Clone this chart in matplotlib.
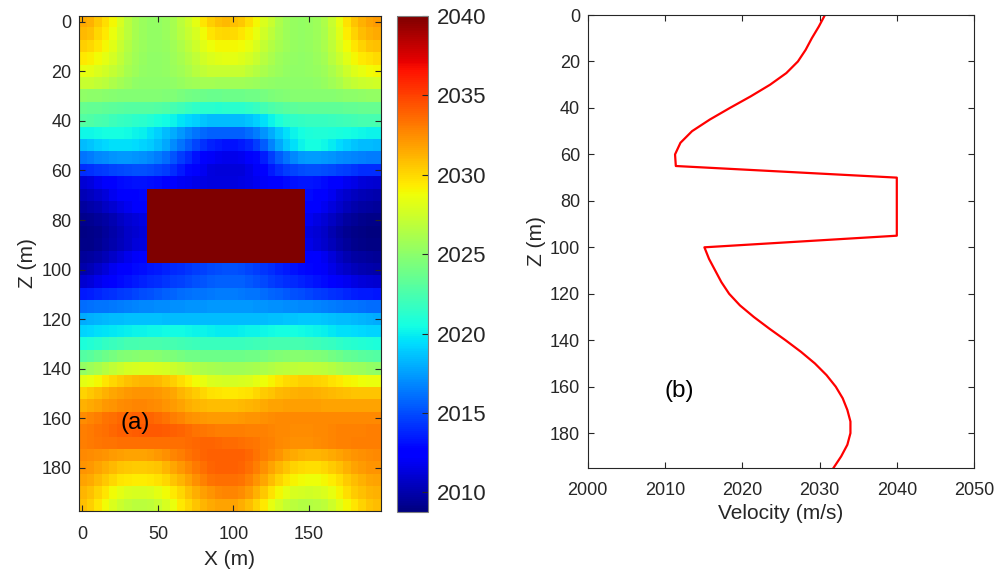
import numpy as np
import matplotlib
matplotlib.use('Agg')
import matplotlib.pyplot as plt

plt.rcParams['font.family'] = ['Liberation Sans', 'DejaVu Sans']

# grid of the velocity model, cells every 5 m
x_pos = list(range(0, 200, 5))
z_pos = list(range(0, 200, 5))

# velocity rows (m/s), one row per depth
vel_rows = [
    [2031.5, 2031.3, 2030.5, 2029.8, 2029.0, 2027.8, 2026.8, 2026.0, 2025.5, 2025.3, 2025.3, 2025.5, 2026.0, 2026.8, 2027.5, 2028.3, 2029.5, 2030.3, 2030.8, 2031.0, 2030.8, 2030.5, 2029.8, 2029.0, 2028.0, 2027.2, 2026.3, 2025.7, 2025.4, 2025.3, 2025.4, 2025.7, 2026.3, 2027.3, 2028.5, 2029.7, 2030.6, 2031.3, 2031.8, 2032.0],
    [2031.0, 2030.8, 2030.1, 2029.4, 2028.6, 2027.6, 2026.7, 2026.0, 2025.5, 2025.3, 2025.3, 2025.5, 2026.0, 2026.6, 2027.2, 2027.9, 2028.8, 2029.5, 2029.9, 2030.0, 2029.9, 2029.6, 2029.1, 2028.4, 2027.6, 2026.9, 2026.2, 2025.7, 2025.4, 2025.3, 2025.4, 2025.7, 2026.2, 2027.1, 2028.2, 2029.3, 2030.2, 2030.9, 2031.3, 2031.5],
    [2030.3, 2030.1, 2029.5, 2028.9, 2028.2, 2027.3, 2026.5, 2025.9, 2025.5, 2025.3, 2025.3, 2025.4, 2025.8, 2026.3, 2026.9, 2027.5, 2028.2, 2028.7, 2029.0, 2029.0, 2029.0, 2028.8, 2028.4, 2027.8, 2027.1, 2026.5, 2026.0, 2025.6, 2025.4, 2025.3, 2025.4, 2025.6, 2026.1, 2026.9, 2027.9, 2028.8, 2029.6, 2030.2, 2030.6, 2030.8],
    [2029.4, 2029.2, 2028.8, 2028.3, 2027.7, 2027.0, 2026.3, 2025.8, 2025.4, 2025.2, 2025.2, 2025.3, 2025.6, 2026.0, 2026.5, 2027.0, 2027.6, 2028.0, 2028.2, 2028.3, 2028.3, 2028.1, 2027.7, 2027.2, 2026.6, 2026.1, 2025.7, 2025.4, 2025.3, 2025.2, 2025.3, 2025.5, 2025.9, 2026.6, 2027.4, 2028.2, 2028.9, 2029.4, 2029.7, 2029.9],
    [2028.5, 2028.3, 2028.0, 2027.6, 2027.1, 2026.6, 2026.0, 2025.6, 2025.3, 2025.2, 2025.2, 2025.3, 2025.5, 2025.8, 2026.2, 2026.6, 2027.0, 2027.2, 2027.3, 2027.3, 2027.3, 2027.2, 2026.9, 2026.5, 2026.1, 2025.8, 2025.5, 2025.3, 2025.2, 2025.2, 2025.3, 2025.4, 2025.7, 2026.2, 2026.8, 2027.5, 2028.1, 2028.5, 2028.8, 2029.0],
    [2027.3, 2027.2, 2027.0, 2026.7, 2026.3, 2025.9, 2025.5, 2025.2, 2025.1, 2025.0, 2025.0, 2025.1, 2025.2, 2025.4, 2025.6, 2025.8, 2025.9, 2025.9, 2025.8, 2025.8, 2025.8, 2025.8, 2025.7, 2025.5, 2025.3, 2025.2, 2025.1, 2025.0, 2025.0, 2025.0, 2025.1, 2025.2, 2025.4, 2025.8, 2026.2, 2026.7, 2027.1, 2027.4, 2027.5, 2027.6],
    [2025.2, 2025.1, 2025.0, 2024.9, 2024.8, 2024.7, 2024.7, 2024.7, 2024.7, 2024.7, 2024.7, 2024.6, 2024.5, 2024.3, 2024.1, 2023.9, 2023.8, 2023.7, 2023.7, 2023.8, 2023.8, 2023.8, 2023.9, 2024.0, 2024.2, 2024.4, 2024.6, 2024.7, 2024.8, 2024.8, 2024.8, 2024.8, 2024.8, 2024.8, 2024.9, 2025.0, 2025.1, 2025.2, 2025.3, 2025.3],
    [2023.6, 2023.5, 2023.4, 2023.3, 2023.2, 2023.1, 2023.0, 2023.0, 2023.0, 2023.0, 2022.9, 2022.7, 2022.4, 2022.1, 2021.8, 2021.5, 2021.3, 2021.2, 2021.1, 2021.2, 2021.2, 2021.3, 2021.5, 2021.8, 2022.2, 2022.6, 2022.9, 2023.1, 2023.2, 2023.3, 2023.3, 2023.3, 2023.3, 2023.3, 2023.3, 2023.4, 2023.5, 2023.6, 2023.6, 2023.6],
    [2022.8, 2022.7, 2022.5, 2022.3, 2022.0, 2021.8, 2021.6, 2021.4, 2021.2, 2021.0, 2020.7, 2020.4, 2020.1, 2019.7, 2019.3, 2019.0, 2018.7, 2018.5, 2018.4, 2018.4, 2018.4, 2018.5, 2018.7, 2019.1, 2019.6, 2020.2, 2020.8, 2021.2, 2021.5, 2021.6, 2021.7, 2021.7, 2021.8, 2021.9, 2022.0, 2022.1, 2022.2, 2022.3, 2022.4, 2022.4],
    [2020.3, 2020.3, 2020.4, 2020.5, 2020.5, 2020.5, 2020.4, 2020.2, 2020.0, 2019.6, 2019.1, 2018.5, 2017.9, 2017.3, 2016.7, 2016.2, 2015.9, 2015.7, 2015.6, 2015.6, 2015.6, 2015.7, 2016.0, 2016.5, 2017.2, 2018.0, 2018.8, 2019.5, 2020.1, 2020.5, 2020.8, 2020.9, 2020.9, 2020.8, 2020.7, 2020.5, 2020.4, 2020.3, 2020.2, 2020.2],
    [2018.5, 2018.7, 2019.0, 2019.3, 2019.5, 2019.5, 2019.5, 2019.4, 2019.2, 2018.9, 2018.4, 2017.8, 2017.0, 2016.3, 2015.5, 2014.8, 2014.2, 2013.7, 2013.4, 2013.2, 2013.2, 2013.4, 2013.8, 2014.5, 2015.5, 2016.7, 2017.8, 2018.8, 2019.6, 2020.2, 2020.5, 2020.5, 2020.3, 2019.9, 2019.4, 2019.0, 2018.7, 2018.5, 2018.4, 2018.3],
    [2016.3, 2016.5, 2016.8, 2017.0, 2017.2, 2017.3, 2017.3, 2017.2, 2017.1, 2016.9, 2016.5, 2016.0, 2015.3, 2014.6, 2013.9, 2013.2, 2012.6, 2012.1, 2011.8, 2011.7, 2011.7, 2011.8, 2012.2, 2012.8, 2013.6, 2014.6, 2015.5, 2016.3, 2016.9, 2017.3, 2017.5, 2017.5, 2017.4, 2017.2, 2017.0, 2016.8, 2016.7, 2016.6, 2016.5, 2016.5],
    [2014.0, 2014.2, 2014.4, 2014.6, 2014.8, 2014.9, 2015.0, 2015.1, 2015.1, 2015.0, 2014.8, 2014.5, 2014.0, 2013.4, 2012.8, 2012.2, 2011.8, 2011.4, 2011.2, 2011.2, 2011.2, 2011.3, 2011.6, 2012.1, 2012.7, 2013.4, 2014.0, 2014.5, 2014.8, 2015.0, 2015.1, 2015.1, 2015.0, 2014.9, 2014.7, 2014.5, 2014.3, 2014.1, 2014.0, 2014.0],
    [2011.1, 2011.4, 2011.8, 2012.2, 2012.6, 2012.9, 2013.1, 2013.2, 2013.2, 2013.1, 2012.9, 2012.6, 2012.3, 2012.0, 2011.8, 2011.6, 2011.5, 2011.4, 2011.4, 2011.4, 2011.4, 2011.5, 2011.6, 2011.8, 2012.1, 2012.4, 2012.7, 2013.0, 2013.2, 2013.3, 2013.3, 2013.2, 2013.0, 2012.7, 2012.3, 2011.9, 2011.6, 2011.3, 2011.1, 2011.0],
    [2010.3, 2010.5, 2010.9, 2011.3, 2011.8, 2012.2, 2012.5, 2012.7, 2012.8, 2040, 2040, 2040, 2040, 2040, 2040, 2040, 2040, 2040, 2040, 2040, 2040, 2040, 2040, 2040, 2040, 2040, 2040, 2040, 2040, 2040, 2013.0, 2012.7, 2012.3, 2011.8, 2011.3, 2010.9, 2010.5, 2010.3, 2010.1, 2010.0],
    [2009.7, 2009.9, 2010.2, 2010.6, 2011.0, 2011.5, 2011.9, 2012.2, 2012.4, 2040, 2040, 2040, 2040, 2040, 2040, 2040, 2040, 2040, 2040, 2040, 2040, 2040, 2040, 2040, 2040, 2040, 2040, 2040, 2040, 2040, 2012.6, 2012.3, 2011.9, 2011.4, 2010.9, 2010.4, 2010.0, 2009.8, 2009.6, 2009.5],
    [2009.2, 2009.3, 2009.5, 2009.8, 2010.2, 2010.6, 2011.0, 2011.3, 2011.5, 2040, 2040, 2040, 2040, 2040, 2040, 2040, 2040, 2040, 2040, 2040, 2040, 2040, 2040, 2040, 2040, 2040, 2040, 2040, 2040, 2040, 2011.8, 2011.5, 2011.1, 2010.6, 2010.1, 2009.7, 2009.4, 2009.2, 2009.1, 2009.0],
    [2008.9, 2009.0, 2009.2, 2009.5, 2009.9, 2010.3, 2010.7, 2011.0, 2011.2, 2040, 2040, 2040, 2040, 2040, 2040, 2040, 2040, 2040, 2040, 2040, 2040, 2040, 2040, 2040, 2040, 2040, 2040, 2040, 2040, 2040, 2011.4, 2011.1, 2010.7, 2010.2, 2009.7, 2009.3, 2009.0, 2008.9, 2008.8, 2008.7],
    [2009.0, 2009.1, 2009.3, 2009.6, 2010.0, 2010.4, 2010.8, 2011.2, 2011.4, 2040, 2040, 2040, 2040, 2040, 2040, 2040, 2040, 2040, 2040, 2040, 2040, 2040, 2040, 2040, 2040, 2040, 2040, 2040, 2040, 2040, 2011.6, 2011.3, 2010.9, 2010.4, 2009.9, 2009.5, 2009.2, 2009.0, 2008.9, 2008.9],
    [2009.5, 2009.6, 2009.9, 2010.3, 2010.8, 2011.3, 2011.7, 2012.1, 2012.4, 2040, 2040, 2040, 2040, 2040, 2040, 2040, 2040, 2040, 2040, 2040, 2040, 2040, 2040, 2040, 2040, 2040, 2040, 2040, 2040, 2040, 2012.6, 2012.3, 2011.8, 2011.2, 2010.6, 2010.1, 2009.8, 2009.6, 2009.5, 2009.4],
    [2010.0, 2010.3, 2010.8, 2011.3, 2011.8, 2012.2, 2012.6, 2012.9, 2013.1, 2013.3, 2013.5, 2013.7, 2013.9, 2014.1, 2014.3, 2014.5, 2014.7, 2014.9, 2015.0, 2015.1, 2015.1, 2015.0, 2014.8, 2014.6, 2014.3, 2014.0, 2013.7, 2013.4, 2013.2, 2013.0, 2012.8, 2012.5, 2012.1, 2011.6, 2011.1, 2010.7, 2010.4, 2010.2, 2010.0, 2009.9],
    [2011.0, 2011.3, 2011.7, 2012.1, 2012.5, 2012.9, 2013.2, 2013.5, 2013.7, 2013.9, 2014.1, 2014.3, 2014.5, 2014.7, 2014.9, 2015.1, 2015.3, 2015.5, 2015.6, 2015.7, 2015.7, 2015.6, 2015.4, 2015.2, 2014.9, 2014.6, 2014.3, 2014.1, 2013.9, 2013.7, 2013.5, 2013.2, 2012.9, 2012.5, 2012.1, 2011.8, 2011.5, 2011.3, 2011.1, 2011.0],
    [2013.4, 2013.6, 2013.8, 2014.0, 2014.2, 2014.4, 2014.6, 2014.8, 2015.0, 2015.2, 2015.4, 2015.6, 2015.8, 2016.0, 2016.1, 2016.2, 2016.3, 2016.4, 2016.5, 2016.5, 2016.5, 2016.4, 2016.3, 2016.2, 2016.0, 2015.8, 2015.6, 2015.4, 2015.2, 2015.0, 2014.8, 2014.6, 2014.4, 2014.2, 2014.0, 2013.8, 2013.6, 2013.5, 2013.4, 2013.3],
    [2016.0, 2016.1, 2016.2, 2016.3, 2016.4, 2016.5, 2016.6, 2016.7, 2016.8, 2016.9, 2017.0, 2017.0, 2017.1, 2017.1, 2017.2, 2017.2, 2017.2, 2017.3, 2017.3, 2017.3, 2017.3, 2017.3, 2017.3, 2017.2, 2017.2, 2017.1, 2017.1, 2017.0, 2017.0, 2016.9, 2016.8, 2016.7, 2016.6, 2016.5, 2016.4, 2016.3, 2016.2, 2016.1, 2016.0, 2016.0],
    [2018.0, 2018.1, 2018.2, 2018.3, 2018.4, 2018.5, 2018.6, 2018.6, 2018.6, 2018.6, 2018.6, 2018.5, 2018.5, 2018.5, 2018.5, 2018.5, 2018.5, 2018.5, 2018.5, 2018.5, 2018.5, 2018.5, 2018.5, 2018.5, 2018.5, 2018.6, 2018.6, 2018.7, 2018.7, 2018.8, 2018.8, 2018.8, 2018.7, 2018.6, 2018.5, 2018.4, 2018.3, 2018.2, 2018.1, 2018.0],
    [2019.2, 2019.3, 2019.5, 2019.7, 2019.8, 2019.9, 2020.0, 2020.1, 2020.2, 2020.3, 2020.3, 2020.4, 2020.4, 2020.4, 2020.3, 2020.2, 2020.1, 2020.0, 2019.9, 2019.9, 2019.9, 2020.0, 2020.1, 2020.2, 2020.3, 2020.4, 2020.5, 2020.5, 2020.5, 2020.4, 2020.3, 2020.2, 2020.0, 2019.8, 2019.6, 2019.5, 2019.4, 2019.3, 2019.2, 2019.2],
    [2020.8, 2021.0, 2021.3, 2021.6, 2021.9, 2022.1, 2022.3, 2022.4, 2022.5, 2022.5, 2022.5, 2022.4, 2022.3, 2022.2, 2022.1, 2022.0, 2021.9, 2021.9, 2021.9, 2021.9, 2021.9, 2021.9, 2022.0, 2022.1, 2022.2, 2022.3, 2022.4, 2022.4, 2022.4, 2022.3, 2022.2, 2022.1, 2021.9, 2021.7, 2021.5, 2021.3, 2021.1, 2021.0, 2020.9, 2020.8],
    [2022.9, 2023.1, 2023.4, 2023.8, 2024.2, 2024.5, 2024.7, 2024.8, 2024.9, 2024.9, 2024.8, 2024.6, 2024.4, 2024.2, 2024.0, 2023.9, 2023.8, 2023.8, 2023.8, 2023.8, 2023.8, 2023.8, 2023.9, 2024.0, 2024.2, 2024.4, 2024.6, 2024.7, 2024.8, 2024.8, 2024.7, 2024.6, 2024.4, 2024.1, 2023.8, 2023.5, 2023.3, 2023.1, 2023.0, 2022.9],
    [2025.3, 2025.6, 2026.0, 2026.5, 2027.0, 2027.4, 2027.7, 2027.9, 2028.0, 2028.0, 2027.9, 2027.7, 2027.4, 2027.1, 2026.8, 2026.5, 2026.2, 2026.0, 2025.9, 2025.8, 2025.8, 2025.8, 2025.9, 2026.0, 2026.2, 2026.4, 2026.6, 2026.8, 2026.9, 2027.0, 2027.0, 2026.9, 2026.7, 2026.5, 2026.2, 2025.9, 2025.7, 2025.5, 2025.3, 2025.2],
    [2028.3, 2028.6, 2029.0, 2029.5, 2030.0, 2030.4, 2030.8, 2031.0, 2031.1, 2031.1, 2031.0, 2030.7, 2030.3, 2029.8, 2029.3, 2028.8, 2028.4, 2028.0, 2027.8, 2027.7, 2027.7, 2027.8, 2028.0, 2028.3, 2028.7, 2029.1, 2029.5, 2029.9, 2030.1, 2030.3, 2030.3, 2030.2, 2030.0, 2029.7, 2029.4, 2029.1, 2028.9, 2028.7, 2028.6, 2028.6],
    [2030.2, 2030.5, 2030.9, 2031.3, 2031.6, 2031.9, 2032.1, 2032.2, 2032.2, 2032.2, 2032.1, 2031.9, 2031.6, 2031.2, 2030.8, 2030.4, 2030.0, 2029.7, 2029.5, 2029.4, 2029.4, 2029.5, 2029.7, 2030.0, 2030.4, 2030.7, 2031.0, 2031.2, 2031.3, 2031.4, 2031.4, 2031.3, 2031.2, 2031.0, 2030.9, 2030.8, 2030.7, 2030.6, 2030.6, 2030.6],
    [2031.3, 2031.5, 2031.8, 2032.1, 2032.3, 2032.5, 2032.6, 2032.7, 2032.7, 2032.6, 2032.5, 2032.3, 2032.0, 2031.7, 2031.4, 2031.2, 2031.0, 2030.9, 2030.9, 2030.9, 2030.9, 2031.0, 2031.1, 2031.3, 2031.5, 2031.7, 2031.8, 2031.9, 2031.9, 2031.9, 2031.9, 2031.9, 2031.8, 2031.8, 2031.8, 2031.8, 2031.8, 2031.8, 2031.8, 2031.8],
    [2032.5, 2032.7, 2033.0, 2033.3, 2033.5, 2033.7, 2033.8, 2033.9, 2033.9, 2033.8, 2033.6, 2033.3, 2033.0, 2032.7, 2032.4, 2032.2, 2032.1, 2032.0, 2032.0, 2032.0, 2032.0, 2032.1, 2032.2, 2032.3, 2032.4, 2032.5, 2032.6, 2032.6, 2032.6, 2032.6, 2032.6, 2032.6, 2032.6, 2032.6, 2032.6, 2032.6, 2032.6, 2032.6, 2032.6, 2032.6],
    [2033.0, 2033.1, 2033.3, 2033.5, 2033.7, 2033.9, 2034.0, 2034.1, 2034.2, 2034.2, 2034.2, 2034.1, 2034.0, 2033.8, 2033.6, 2033.4, 2033.2, 2033.1, 2033.0, 2033.0, 2033.0, 2033.0, 2032.9, 2032.9, 2032.8, 2032.7, 2032.6, 2032.6, 2032.5, 2032.5, 2032.5, 2032.6, 2032.6, 2032.7, 2032.8, 2032.8, 2032.9, 2032.9, 2033.0, 2033.0],
    [2033.0, 2033.1, 2033.2, 2033.3, 2033.4, 2033.5, 2033.5, 2033.5, 2033.5, 2033.5, 2033.5, 2033.5, 2033.5, 2033.5, 2033.6, 2033.7, 2033.8, 2033.8, 2033.7, 2033.6, 2033.6, 2033.5, 2033.4, 2033.2, 2033.0, 2032.8, 2032.6, 2032.5, 2032.4, 2032.4, 2032.4, 2032.5, 2032.6, 2032.7, 2032.8, 2032.9, 2033.0, 2033.0, 2033.0, 2033.0],
    [2032.6, 2032.5, 2032.4, 2032.2, 2032.0, 2031.9, 2031.8, 2031.8, 2031.8, 2031.9, 2032.1, 2032.4, 2032.7, 2033.0, 2033.3, 2033.6, 2033.8, 2034.0, 2034.0, 2034.0, 2034.0, 2033.9, 2033.7, 2033.4, 2033.0, 2032.6, 2032.2, 2031.8, 2031.5, 2031.3, 2031.2, 2031.2, 2031.3, 2031.5, 2031.8, 2032.0, 2032.2, 2032.4, 2032.5, 2032.6],
    [2032.3, 2032.1, 2031.8, 2031.4, 2031.0, 2030.7, 2030.5, 2030.4, 2030.4, 2030.5, 2030.7, 2031.1, 2031.6, 2032.1, 2032.6, 2033.1, 2033.5, 2033.8, 2034.0, 2034.0, 2034.0, 2033.8, 2033.5, 2033.0, 2032.4, 2031.8, 2031.2, 2030.6, 2030.2, 2029.9, 2029.8, 2029.8, 2030.0, 2030.4, 2030.8, 2031.3, 2031.7, 2032.0, 2032.2, 2032.3],
    [2031.8, 2031.5, 2031.0, 2030.5, 2030.0, 2029.6, 2029.4, 2029.3, 2029.3, 2029.4, 2029.7, 2030.1, 2030.6, 2031.2, 2031.8, 2032.4, 2032.9, 2033.3, 2033.5, 2033.5, 2033.5, 2033.3, 2032.9, 2032.3, 2031.6, 2030.9, 2030.2, 2029.6, 2029.1, 2028.8, 2028.7, 2028.7, 2028.9, 2029.3, 2029.8, 2030.4, 2030.9, 2031.3, 2031.6, 2031.8],
    [2031.2, 2030.8, 2030.2, 2029.5, 2028.8, 2028.3, 2028.0, 2027.9, 2027.9, 2028.0, 2028.3, 2028.8, 2029.4, 2030.1, 2030.8, 2031.4, 2031.9, 2032.3, 2032.6, 2032.7, 2032.7, 2032.5, 2032.0, 2031.3, 2030.5, 2029.7, 2028.9, 2028.3, 2027.9, 2027.7, 2027.6, 2027.7, 2028.0, 2028.5, 2029.1, 2029.8, 2030.4, 2030.8, 2031.1, 2031.3],
    [2030.8, 2030.3, 2029.6, 2028.8, 2028.0, 2027.4, 2027.0, 2026.8, 2026.8, 2026.9, 2027.3, 2027.9, 2028.6, 2029.4, 2030.1, 2030.7, 2031.2, 2031.5, 2031.7, 2031.7, 2031.7, 2031.4, 2030.9, 2030.2, 2029.4, 2028.5, 2027.7, 2027.1, 2026.7, 2026.5, 2026.5, 2026.6, 2026.9, 2027.5, 2028.2, 2028.9, 2029.6, 2030.2, 2030.6, 2030.9],
]

# velocity profile of panel (b)
prof_z = list(range(0, 200, 5))
prof_v = [2030.7, 2029.9, 2029.0, 2028.2, 2027.2, 2025.7, 2023.6, 2021.1, 2018.4, 2015.8,
          2013.5, 2012.0, 2011.3, 2011.4, 2040.0, 2040.0, 2040.0, 2040.0, 2040.0, 2040.0,
          2015.1, 2015.7, 2016.5, 2017.3, 2018.3, 2019.7, 2021.5, 2023.5, 2025.6, 2027.6,
          2029.4, 2030.9, 2032.1, 2033.0, 2033.6, 2034.0, 2034.0, 2033.6, 2032.8, 2031.8]

v_min = 2008.74
v_max = 2040.0
txt = (0.15, 0.15, 0.15)

fig = plt.figure(figsize=(9.97, 5.71), dpi=100)

# (a) velocity model
ax1 = fig.add_axes([0.0789, 0.1051, 0.3029, 0.8674])
dx = x_pos[1] - x_pos[0]
dz = z_pos[1] - z_pos[0]
im = ax1.imshow(np.array(vel_rows), cmap='jet', vmin=v_min, vmax=v_max,
                interpolation='nearest', aspect='auto',
                extent=[x_pos[0] - dx / 2, x_pos[-1] + dx / 2,
                        z_pos[-1] + dz / 2, z_pos[0] - dz / 2])
ax1.set_xticks([0, 50, 100, 150])
ax1.set_yticks(range(0, 181, 20))
ax1.set_xlabel('X (m)', fontsize=15, color=txt, labelpad=5)
ax1.set_ylabel('Z (m)', fontsize=15, color=txt, labelpad=3)
ax1.tick_params(axis='x', direction='in', top=True, length=4, width=0.8,
                labelsize=13, colors=txt, pad=11)
ax1.tick_params(axis='y', direction='in', right=True, length=4, width=0.8,
                labelsize=13, colors=txt, pad=5)
ax1.text(25, 162, '(a)', fontsize=17.5, ha='left', va='center', color='black')

cax = fig.add_axes([0.3979, 0.1028, 0.0317, 0.8692])
cb = fig.colorbar(im, cax=cax)
cb.set_ticks([2010, 2015, 2020, 2025, 2030, 2035, 2040])
cb.ax.tick_params(direction='in', length=4, width=0.8, labelsize=16,
                  colors=txt, pad=6)
cb.outline.set_edgecolor((0.5, 0.5, 0.5))
cb.outline.set_linewidth(0.8)

# (b) velocity profile
ax2 = fig.add_axes([0.5895, 0.1804, 0.3875, 0.7933])
ax2.plot(prof_v, prof_z, color='red', lw=1.6)
ax2.set_xlim(2000, 2050)
ax2.set_ylim(195, 0)
ax2.set_xticks(range(2000, 2051, 10))
ax2.set_yticks(range(0, 181, 20))
ax2.set_xlabel('Velocity (m/s)', fontsize=15, color=txt, labelpad=4)
ax2.set_ylabel('Z (m)', fontsize=15, color=txt, labelpad=3)
ax2.tick_params(axis='x', direction='in', top=True, length=4, width=0.8,
                labelsize=13, colors=txt, pad=10)
ax2.tick_params(axis='y', direction='in', right=True, length=4, width=0.8,
                labelsize=13, colors=txt, pad=5.5)
ax2.text(2010, 162, '(b)', fontsize=17.5, ha='left', va='center', color='black')

for ax in (ax1, ax2):
    for s in ax.spines.values():
        s.set_color((0.15, 0.15, 0.15))
        s.set_linewidth(0.8)

fig.savefig('out.png', dpi=100)
